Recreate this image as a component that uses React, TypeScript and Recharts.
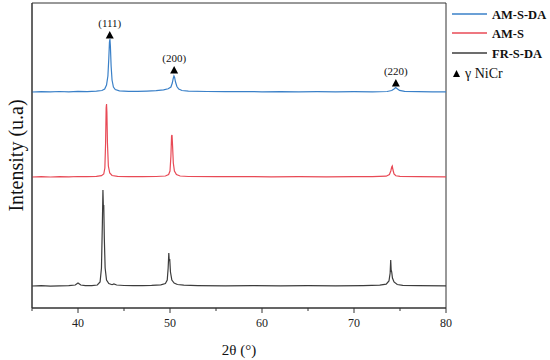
import React from 'react';
import { ComposedChart, Line, Scatter, XAxis, YAxis, ReferenceArea } from 'recharts';

type Pt = { x: number; y: number };
const P = (a: number[][]): Pt[] => a.map(([x, y]) => ({ x, y }));

const seriesNames = ['AM-S-DA', 'AM-S', 'FR-S-DA'];
const seriesColors = ['#3a80c8', '#e84a56', '#3c3c3c'];
const phaseLabel = 'γ NiCr';

const amSDA = P([[35,216],[36,216.4],[37,216.1],[38,216.5],[39,216.2],[40,216.6],[41,216.4],[42,216.8],[42.6,217.5],[42.9,219],[43.1,223],[43.25,232],[43.35,250],[43.42,266],[43.47,269],[43.52,262],[43.6,242],[43.7,228],[43.85,221],[44.05,218.5],[44.5,217.2],[45.5,216.7],[46.5,216.6],[47.5,216.9],[48.5,217.4],[49.3,218.2],[49.8,219.2],[50.1,221],[50.25,225],[50.35,229.5],[50.43,232],[50.5,230.5],[50.6,226],[50.75,221.5],[50.95,219],[51.3,217.5],[52,216.8],[54,216.5],[56,216.3],[58,216.5],[60,216.2],[62,216.4],[64,216.1],[66,216.3],[68,216.2],[70,216.4],[72,216.2],[73.6,216.5],[74.1,217.5],[74.35,219],[74.53,220.5],[74.7,219.3],[74.95,217.6],[75.5,216.6],[77,216.3],[78.5,216.2],[80,216.1]]);

const amS = P([[35,131],[36,131.3],[37,131],[38,131.4],[39,131.1],[40,131.5],[41,131.3],[42,131.6],[42.55,132.3],[42.8,134],[42.92,140],[43.0,165],[43.06,200],[43.1,204],[43.14,196],[43.2,165],[43.3,142],[43.45,135],[43.7,132.5],[44.3,131.6],[45.5,131.4],[47,131.3],[48.5,131.5],[49.5,132],[49.85,133.5],[50.0,137],[50.1,152],[50.17,172],[50.22,173],[50.28,162],[50.36,145],[50.48,137],[50.7,133.5],[51.1,132],[52,131.5],[55,131.3],[58,131.4],[61,131.2],[64,131.4],[67,131.2],[70,131.3],[72,131.4],[73.5,131.8],[73.85,133.5],[74.0,137],[74.1,141],[74.16,142],[74.24,138],[74.35,134],[74.55,132.2],[75,131.6],[77,131.3],[80,131.2]]);

const frSDA = P([[35,22],[36,22.3],[37,21.9],[38,22.2],[39,22.3],[39.7,23],[40.0,25],[40.3,23],[40.8,22.3],[41.5,22.4],[42.1,23],[42.4,26],[42.55,40],[42.65,85],[42.71,118],[42.76,100],[42.8,103],[42.86,70],[42.95,40],[43.1,28],[43.35,24.5],[43.7,23.3],[43.9,24],[44.2,23],[45,22.5],[46,22.3],[47,22.4],[48,22.6],[49,23.2],[49.5,24.5],[49.7,28],[49.8,40],[49.87,55],[49.92,47],[49.97,49],[50.05,36],[50.2,28],[50.45,25],[50.8,23.5],[51.5,22.8],[53,22.4],[56,22.2],[59,22.4],[62,22.2],[65,22.3],[68,22.2],[71,22.4],[72.8,22.8],[73.5,23.8],[73.8,27],[73.93,35],[73.99,48],[74.04,38],[74.1,36],[74.18,30],[74.35,26],[74.7,23.5],[75.3,22.6],[77,22.3],[80,22.2]]);

const markers = [
  { x: 43.45, y: 273, label: '(111)' },
  { x: 50.45, y: 238, label: '(200)' },
  { x: 74.55, y: 225, label: '(220)' },
];

const xTicks = [35, 40, 45, 50, 55, 60, 65, 70, 75, 80];
const FONT = "'Liberation Serif', 'Times New Roman', serif";

const XTick = (props: any) => {
  const { x, y, payload } = props;
  const v = payload.value;
  const major = v % 10 === 0;
  return (
    <g>
      <line x1={x} x2={x} y1={y} y2={y + (major ? 5 : 3)} stroke="#333" strokeWidth={1} />
      {major ? (
        <text x={x} y={y + 19} textAnchor="middle" style={{ fontFamily: FONT, fontSize: 12 }} fill="#222">
          {v}
        </text>
      ) : null}
    </g>
  );
};

const Tri = (props: any) => {
  const { cx, cy, payload } = props;
  return (
    <g>
      <polygon points={`${cx - 4},${cy + 3.5} ${cx + 4},${cy + 3.5} ${cx},${cy - 4}`} fill="#000" />
      <text x={cx} y={cy - 8} textAnchor="middle" style={{ fontFamily: FONT, fontSize: 11 }} fill="#111">
        {payload.label}
      </text>
    </g>
  );
};

const LegendBox = () => (
  <svg width={102} height={90} style={{ display: 'block' }}>
    {seriesNames.map((n, i) => {
      const yy = [14, 33, 53][i];
      return (
        <g key={n}>
          <line x1={4} x2={39} y1={yy} y2={yy} stroke={seriesColors[i]} strokeWidth={1.3} />
          <text x={44} y={yy + 4.5} style={{ fontFamily: FONT, fontSize: 12.5, fontWeight: 'bold' }} fill="#111">
            {n}
          </text>
        </g>
      );
    })}
    <polygon points="5,77 12,77 8.5,70" fill="#000" />
    <text x={17} y={78} style={{ fontFamily: FONT, fontSize: 14 }} fill="#111">
      {phaseLabel}
    </text>
  </svg>
);

export default function App() {
  return (
    <div style={{ position: 'absolute', left: 0, top: 0, width: 550, height: 360 }}>
      <ComposedChart width={550} height={360} margin={{ top: 3, right: 104, left: 0, bottom: 2 }}>
        <XAxis
          type="number"
          dataKey="x"
          domain={[35, 80]}
          ticks={xTicks}
          allowDataOverflow
          tickSize={0}
          tickMargin={0}
          tickLine={false}
          tick={<XTick />}
          axisLine={{ stroke: '#333' }}
          height={50}
          label={{ value: '2θ (°)', position: 'insideBottom', offset: 3, fontSize: 15, fontFamily: FONT, fill: '#111' }}
        />
        <YAxis
          type="number"
          domain={[0, 305]}
          width={32}
          tick={false}
          tickLine={false}
          axisLine={{ stroke: '#333' }}
          allowDataOverflow
          label={{ value: 'Intensity (u.a)', angle: -90, position: 'center', fontSize: 20, fontFamily: FONT, fill: '#111' }}
        />
        <ReferenceArea x1={35} x2={80} y1={0} y2={305} fill="none" stroke="#333" strokeWidth={1} ifOverflow="visible" />
        <Line data={frSDA} dataKey="y" type="linear" stroke={seriesColors[2]} strokeWidth={1.2} dot={false} isAnimationActive={false} name={seriesNames[2]} />
        <Line data={amS} dataKey="y" type="linear" stroke={seriesColors[1]} strokeWidth={1.2} dot={false} isAnimationActive={false} name={seriesNames[1]} />
        <Line data={amSDA} dataKey="y" type="linear" stroke={seriesColors[0]} strokeWidth={1.2} dot={false} isAnimationActive={false} name={seriesNames[0]} />
        <Scatter data={markers} dataKey="y" shape={<Tri />} isAnimationActive={false} />
      </ComposedChart>
      <div style={{ position: 'absolute', left: 448, top: 0 }}>
        <LegendBox />
      </div>
    </div>
  );
}
